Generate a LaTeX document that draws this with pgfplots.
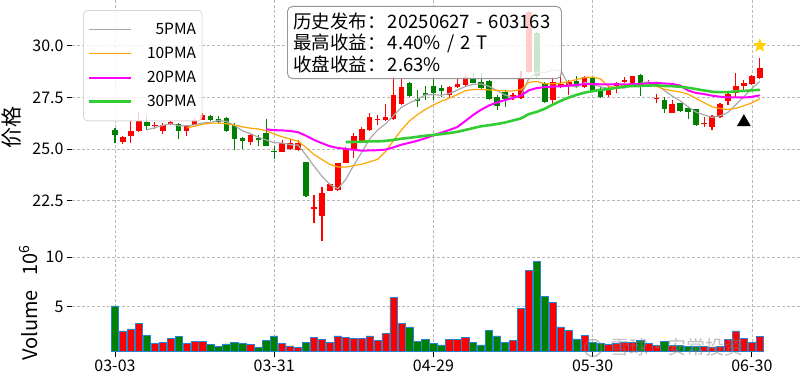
\documentclass[border=0pt]{standalone}
\usepackage{pgfplots}
\pgfplotsset{compat=1.18}
\usepackage{fontspec}
\setmainfont{Noto Sans CJK SC}
\usetikzlibrary{shapes.geometric}
\definecolor{upred}{RGB}{255,0,0}
\definecolor{dngreen}{RGB}{0,128,0}
\definecolor{maA}{RGB}{169,169,169}
\definecolor{maB}{RGB}{255,165,0}
\definecolor{maC}{RGB}{255,0,255}
\definecolor{maD}{RGB}{50,205,50}
\definecolor{gridc}{RGB}{185,185,185}
\definecolor{voledge}{RGB}{40,130,210}
\definecolor{gold}{RGB}{255,210,0}
\pgfdeclareplotmark{fstar}{\node[star,star points=5,star point ratio=2.4,fill=gold,draw=none,inner sep=0pt,minimum size=15pt]{};}
\pgfplotsset{
  common/.style={
    scale only axis, anchor=south west, width=728.4pt,
    xmin=-5.4, xmax=86.1,
    axis line style={draw=none},
    xtick={0,20,40,60,80},
    grid=major,
    grid style={gridc, dash pattern=on 3pt off 2pt, line width=0.7pt},
    tick align=outside, major tick length=5pt,
    tick style={black, line width=0.8pt},
    xtick pos=left, ytick pos=left,
    tick label style={font=\fontsize{16}{16}\selectfont},
    /pgf/number format/assume math mode=true,
    unbounded coords=jump,
  }
}
\begin{document}
\begin{tikzpicture}
\useasboundingbox (0pt,0pt) rectangle (800pt,377pt);
% ---------------- price ----------------
\begin{axis}[common, at={(72pt,134pt)}, height=243pt,
  ymin=20.45, ymax=32.21,
  ytick={22.5,25,27.5,30},
  yticklabel style={/pgf/number format/fixed, /pgf/number format/fixed zerofill, /pgf/number format/precision=1},
  xticklabels={}, major x tick style={draw=none},
  ylabel={价格},
  ylabel style={at={(axis description cs:-0.0824,0.477)}, anchor=center, font=\fontsize{21}{21}\selectfont},
  legend cell align=right,
  legend image code/.code={\draw[#1] (0pt,0pt) -- (42pt,0pt);},
  legend style={at={(0.0151,0.9588)}, anchor=north west, draw={rgb,255:red,215;green,215;blue,215}, line width=0.8pt, rounded corners=4pt, fill=white, fill opacity=0.8, text opacity=1, draw opacity=1, font=\fontsize{15.5}{17}\selectfont, row sep=7pt, column sep=13pt, inner xsep=4pt, inner ysep=11pt},
]
% red wicks
\addplot[upred, line width=1.1pt, forget plot] coordinates {
(1,25.26) (1,25.63) (1,nan) (2,25.29) (2,26.34) (2,nan) (3,25.82) (3,26.79) (3,nan)
(5,25.97) (5,26.29) (5,nan) (6,25.74) (6,26.26) (6,nan) (7,26.16) (7,26.39) (7,nan)
(9,25.61) (9,26.18) (9,nan) (10,26.15) (10,26.50) (10,nan) (11,26.39) (11,26.74) (11,nan)
(17,25.21) (17,25.74) (17,nan) (21,24.84) (21,25.44) (21,nan) (22,24.95) (22,25.47) (22,nan)
(23,24.92) (23,25.44) (23,nan) (25,21.40) (25,22.77) (25,nan) (26,20.56) (26,23.18) (26,nan)
(27,22.97) (27,23.37) (27,nan) (28,22.98) (28,24.34) (28,nan) (29,24.31) (29,25.11) (29,nan)
(30,24.55) (30,25.76) (30,nan) (31,25.35) (31,26.08) (31,nan) (32,25.89) (32,26.73) (32,nan)
(33,26.16) (33,26.65) (33,nan) (34,26.37) (34,27.18) (34,nan) (35,26.40) (35,28.53) (35,nan)
(36,27.13) (36,28.37) (36,nan) (42,27.53) (42,28.05) (42,nan) (43,27.94) (43,28.47) (43,nan)
(44,28.05) (44,28.58) (44,nan) (50,27.37) (50,27.73) (50,nan) (51,27.40) (51,28.79) (51,nan)
(52,28.70) (52,31.68) (52,nan) (55,27.13) (55,28.50) (55,nan) (56,27.94) (56,28.82) (56,nan)
(57,27.61) (57,28.34) (57,nan) (59,27.94) (59,28.53) (59,nan) (62,27.53) (62,27.98) (62,nan)
(63,27.69) (63,28.26) (63,nan) (64,28.18) (64,28.50) (64,nan) (65,28.15) (65,28.55) (65,nan)
(67,27.98) (67,28.34) (67,nan) (68,27.24) (68,27.66) (68,nan) (70,26.73) (70,27.37) (70,nan)
(74,26.08) (74,26.53) (74,nan) (75,25.92) (75,26.65) (75,nan) (76,26.48) (76,27.21) (76,nan)
(77,27.13) (77,27.82) (77,nan) (78,27.53) (78,28.69) (78,nan) (79,27.85) (79,28.34) (79,nan)
(80,28.10) (80,28.58) (80,nan) (81,28.37) (81,29.42)
};
% red bodies
\addplot[upred, line width=5.5pt, forget plot] coordinates {
(1,25.32) (1,25.60) (1,nan) (2,25.61) (2,25.89) (2,nan) (3,25.85) (3,26.37) (3,nan)
(5,26.10) (5,26.18) (5,nan) (6,25.85) (6,26.18) (6,nan) (7,26.21) (7,26.29) (7,nan)
(9,25.85) (9,26.10) (9,nan) (10,26.18) (10,26.42) (10,nan) (11,26.42) (11,26.66) (11,nan)
(17,25.32) (17,25.68) (17,nan) (21,24.87) (21,25.31) (21,nan) (22,25.00) (22,25.31) (22,nan)
(23,24.95) (23,25.31) (23,nan) (25,22.11) (25,22.18) (25,nan) (26,21.77) (26,22.89) (26,nan)
(27,22.98) (27,23.29) (27,nan) (28,23.02) (28,24.31) (28,nan) (29,24.34) (29,25.00) (29,nan)
(30,24.95) (30,25.63) (30,nan) (31,25.40) (31,25.97) (31,nan) (32,25.92) (32,26.53) (32,nan)
(33,26.40) (33,26.45) (33,nan) (34,26.40) (34,26.53) (34,nan) (35,26.44) (35,27.61) (35,nan)
(36,27.18) (36,27.98) (36,nan) (42,27.61) (42,27.98) (42,nan) (43,27.98) (43,28.15) (43,nan)
(44,28.10) (44,28.47) (44,nan) (50,27.50) (50,27.61) (50,nan) (51,27.45) (51,28.42) (51,nan)
(52,28.74) (52,31.65) (52,nan) (55,27.37) (55,28.26) (55,nan) (56,27.98) (56,28.15) (56,nan)
(57,28.10) (57,28.26) (57,nan) (59,27.98) (59,28.47) (59,nan) (62,27.61) (62,27.89) (62,nan)
(63,28.05) (63,28.18) (63,nan) (64,28.26) (64,28.34) (64,nan) (65,28.18) (65,28.53) (65,nan)
(67,28.15) (67,28.21) (67,nan) (68,27.40) (68,27.48) (68,nan) (70,26.76) (70,27.18) (70,nan)
(74,26.19) (74,26.27) (74,nan) (75,26.08) (75,26.60) (75,nan) (76,26.53) (76,27.18) (76,nan)
(77,27.34) (77,27.66) (77,nan) (78,27.73) (78,28.05) (78,nan) (79,28.05) (79,28.18) (79,nan)
(80,28.15) (80,28.53) (80,nan) (81,28.42) (81,28.92)
};
% green wicks
\addplot[dngreen, line width=1.1pt, forget plot] coordinates {
(0,25.29) (0,26.02) (0,nan) (4,25.94) (4,26.63) (4,nan) (8,25.50) (8,26.26) (8,nan)
(12,26.34) (12,26.66) (12,nan) (13,26.26) (13,26.58) (13,nan) (14,25.81) (14,26.55) (14,nan)
(15,24.94) (15,26.26) (15,nan) (16,25.00) (16,25.58) (16,nan) (18,25.16) (18,25.69) (18,nan)
(19,25.13) (19,26.45) (19,nan) (20,24.50) (20,25.15) (20,nan) (24,22.69) (24,24.39) (24,nan)
(37,27.50) (37,28.26) (37,nan) (38,27.05) (38,27.85) (38,nan) (39,27.37) (39,28.05) (39,nan)
(40,27.37) (40,28.42) (40,nan) (41,27.53) (41,28.10) (41,nan) (45,28.18) (45,28.69) (45,nan)
(46,27.89) (46,28.66) (46,nan) (47,27.37) (47,28.34) (47,nan) (48,26.89) (48,27.61) (48,nan)
(49,27.05) (49,27.85) (49,nan) (53,28.45) (53,30.65) (53,nan) (54,27.24) (54,28.26) (54,nan)
(58,27.94) (58,28.53) (58,nan) (60,27.77) (60,28.50) (60,nan) (61,27.45) (61,28.02) (61,nan)
(66,27.56) (66,28.61) (66,nan) (69,26.76) (69,27.53) (69,nan) (71,26.81) (71,27.24) (71,nan)
(72,26.44) (72,27.05) (72,nan) (73,26.13) (73,26.95)
};
% green bodies
\addplot[dngreen, line width=5.5pt, forget plot] coordinates {
(0,25.68) (0,25.90) (0,nan) (4,26.10) (4,26.31) (4,nan) (8,25.85) (8,26.21) (8,nan)
(12,26.39) (12,26.58) (12,nan) (13,26.31) (13,26.45) (13,nan) (14,25.85) (14,26.50) (14,nan)
(15,25.50) (15,26.18) (15,nan) (16,25.37) (16,25.53) (16,nan) (18,25.45) (18,25.52) (18,nan)
(19,25.16) (19,25.77) (19,nan) (20,24.84) (20,24.90) (20,nan) (24,22.73) (24,24.35) (24,nan)
(37,27.56) (37,28.21) (37,nan) (38,27.32) (38,27.40) (38,nan) (39,27.61) (39,27.69) (39,nan)
(40,27.69) (40,28.05) (40,nan) (41,27.82) (41,27.94) (41,nan) (45,28.21) (45,28.42) (45,nan)
(46,27.94) (46,28.26) (46,nan) (47,27.40) (47,28.31) (47,nan) (48,27.08) (48,27.53) (48,nan)
(49,27.40) (49,27.77) (49,nan) (53,28.53) (53,30.60) (53,nan) (54,27.29) (54,28.18) (54,nan)
(58,27.98) (58,28.29) (58,nan) (60,27.82) (60,28.45) (60,nan) (61,27.50) (61,27.82) (61,nan)
(66,27.98) (66,28.58) (66,nan) (69,26.94) (69,27.37) (69,nan) (71,26.85) (71,27.21) (71,nan)
(72,26.77) (72,27.00) (72,nan) (73,26.16) (73,26.92)
};
% moving averages
\addplot[maA, line width=1.2pt] coordinates {
(4,25.93) (5,26.03) (6,26.14) (7,26.22) (8,26.12) (9,26.12) (10,26.17) (11,26.26) (12,26.28) (13,26.38)
(14,26.33) (15,26.14) (16,25.88) (17,25.74) (18,25.57) (19,25.43) (20,25.30) (21,25.29) (22,25.21) (23,25.19)
(24,24.70) (25,24.17) (26,23.68) (27,23.28) (28,23.08) (29,23.53) (30,24.22) (31,24.84) (32,25.49) (33,25.92)
(34,26.22) (35,26.62) (36,27.02) (37,27.23) (38,27.40) (39,27.62) (40,27.63) (41,27.60) (42,27.68) (43,27.85)
(44,28.02) (45,28.13) (46,28.15) (47,28.03) (48,27.82) (49,27.61) (50,27.49) (51,27.58) (52,28.43) (53,28.72)
(54,28.70) (55,28.83) (56,28.78) (57,28.10) (58,27.99) (59,28.22) (60,28.14) (61,28.01) (62,27.93) (63,27.97)
(64,27.95) (65,28.09) (66,28.18) (67,28.25) (68,28.11) (69,27.83) (70,27.56) (71,27.33) (72,27.04) (73,26.78)
(74,26.65) (75,26.53) (76,26.60) (77,26.77) (78,27.15) (79,27.53) (80,27.92) (81,28.27)
};
\addlegendentry{5PMA}
\addplot[maB, line width=1.2pt] coordinates {
(9,26.02) (10,26.10) (11,26.20) (12,26.25) (13,26.25) (14,26.22) (15,26.16) (16,26.07) (17,26.01) (18,25.97)
(19,25.88) (20,25.72) (21,25.59) (22,25.48) (23,25.38) (24,25.07) (25,24.73) (26,24.49) (27,24.25) (28,24.13)
(29,24.12) (30,24.20) (31,24.26) (32,24.38) (33,24.50) (34,24.88) (35,25.42) (36,25.93) (37,26.36) (38,26.66)
(39,26.92) (40,27.13) (41,27.31) (42,27.46) (43,27.63) (44,27.82) (45,27.88) (46,27.88) (47,27.86) (48,27.84)
(49,27.81) (50,27.81) (51,27.87) (52,28.23) (53,28.27) (54,28.15) (55,28.16) (56,28.18) (57,28.27) (58,28.36)
(59,28.46) (60,28.48) (61,28.39) (62,28.02) (63,27.98) (64,28.09) (65,28.11) (66,28.10) (67,28.09) (68,28.04)
(69,27.89) (70,27.82) (71,27.76) (72,27.65) (73,27.44) (74,27.24) (75,27.04) (76,26.96) (77,26.91) (78,26.97)
(79,27.09) (80,27.23) (81,27.43)
};
\addlegendentry{10PMA}
\addplot[maC, line width=2pt] coordinates {
(19,25.95) (20,25.91) (21,25.90) (22,25.87) (23,25.81) (24,25.64) (25,25.44) (26,25.28) (27,25.13) (28,25.05)
(29,25.00) (30,24.96) (31,24.92) (32,24.93) (33,24.94) (34,24.97) (35,25.08) (36,25.21) (37,25.30) (38,25.40)
(39,25.52) (40,25.66) (41,25.79) (42,25.92) (43,26.06) (44,26.35) (45,26.65) (46,26.90) (47,27.11) (48,27.25)
(49,27.37) (50,27.47) (51,27.59) (52,27.84) (53,27.95) (54,27.99) (55,28.02) (56,28.03) (57,28.06) (58,28.10)
(59,28.14) (60,28.14) (61,28.13) (62,28.12) (63,28.13) (64,28.12) (65,28.14) (66,28.14) (67,28.18) (68,28.20)
(69,28.17) (70,28.15) (71,28.07) (72,27.83) (73,27.71) (74,27.66) (75,27.58) (76,27.53) (77,27.50) (78,27.50)
(79,27.49) (80,27.52) (81,27.60)
};
\addlegendentry{20PMA}
\addplot[maD, line width=2.6pt] coordinates {
(29,25.34) (30,25.34) (31,25.35) (32,25.37) (33,25.37) (34,25.39) (35,25.44) (36,25.50) (37,25.54) (38,25.59)
(39,25.64) (40,25.68) (41,25.72) (42,25.77) (43,25.83) (44,25.92) (45,26.01) (46,26.10) (47,26.15) (48,26.21)
(49,26.28) (50,26.38) (51,26.48) (52,26.69) (53,26.80) (54,26.95) (55,27.15) (56,27.33) (57,27.49) (58,27.62)
(59,27.73) (60,27.80) (61,27.86) (62,27.90) (63,27.96) (64,28.02) (65,28.05) (66,28.05) (67,28.07) (68,28.08)
(69,28.05) (70,28.04) (71,28.01) (72,27.96) (73,27.90) (74,27.83) (75,27.77) (76,27.75) (77,27.75) (78,27.79)
(79,27.81) (80,27.84) (81,27.86)
};
\addlegendentry{30PMA}
% signal markers
\addplot[only marks, mark=triangle*, mark size=7.5pt, black, forget plot] coordinates {(79,26.30)};
\addplot[only marks, mark=fstar, forget plot] coordinates {(81,30.00)};
\end{axis}
% ---------------- volume ----------------
\begin{axis}[common, at={(72pt,25.3pt)}, height=106.7pt,
  ymin=0.45, ymax=11.23,
  ytick={5,10},
  xticklabels={03-03,03-31,04-29,05-30,06-30},
  ylabel={Volume\hspace{0.7em}10\textsuperscript{6}},
  ylabel style={at={(axis description cs:-0.0597,0.456)}, anchor=center, font=\fontsize{20}{20}\selectfont},
]
\addplot[ybar, bar width=0.92, bar shift=0pt, fill=upred, draw=voledge, line width=0.8pt, forget plot] coordinates {
(1,2.55) (2,2.75) (3,3.28) (5,1.30) (6,1.40) (7,1.77) (9,1.30) (10,1.50) (11,1.50) (17,1.16)
(21,1.30) (22,1.03) (23,0.86) (25,1.87) (26,1.67) (27,1.40) (28,2.04) (29,1.87) (30,1.77) (31,1.77)
(32,2.04) (33,1.60) (34,2.31) (35,5.95) (36,3.28) (42,1.70) (43,1.70) (44,1.87) (50,1.57) (51,4.80)
(52,8.68) (55,5.40) (56,2.95) (57,2.62) (59,2.11) (62,1.20) (63,1.25) (64,1.40) (65,1.35) (67,1.30)
(68,1.10) (70,1.10) (74,0.95) (75,0.90) (76,0.98) (77,1.68) (78,2.55) (79,1.81) (80,1.40) (81,2.00)
};
\addplot[ybar, bar width=0.92, bar shift=0pt, fill=dngreen, draw=voledge, line width=0.8pt, forget plot] coordinates {
(0,5.07) (4,2.11) (8,1.97) (12,1.16) (13,0.96) (14,1.23) (15,1.40) (16,1.30) (18,0.86) (19,1.60)
(20,2.04) (24,1.40) (37,2.95) (38,1.50) (39,1.70) (40,1.30) (41,1.13) (45,1.40) (46,1.13) (47,2.58)
(48,2.04) (49,1.40) (53,9.58) (54,6.01) (58,1.74) (60,1.40) (61,1.25) (66,1.55) (69,1.46) (71,1.04)
(72,0.96) (73,1.00)
};
\end{axis}
% info box
\node[anchor=north west, draw={rgb,255:red,150;green,150;blue,150}, line width=0.9pt, rounded corners=5pt,
  fill=white, fill opacity=0.8, text opacity=1, draw opacity=1, inner xsep=6pt, inner ysep=6pt,
  text width=262pt, align=left, font=\fontsize{18.5}{21.5}\selectfont] at (287pt,371pt)
  {\mbox{历史发布：\hspace{2pt}20250627 - 603163}\\\mbox{最高收益：\hspace{2pt}4.40\% / 2 T}\\\mbox{收盘收益：\hspace{2pt}2.63\%}};
% watermark
\draw[gray, opacity=0.45, line width=1.6pt] (593pt,29pt) circle (8.5pt);
\node[text=gray, opacity=0.5, font=\fontsize{19}{19}\selectfont, anchor=west] at (607pt,30pt) {雪球·安常投资};
\end{tikzpicture}
\end{document}
